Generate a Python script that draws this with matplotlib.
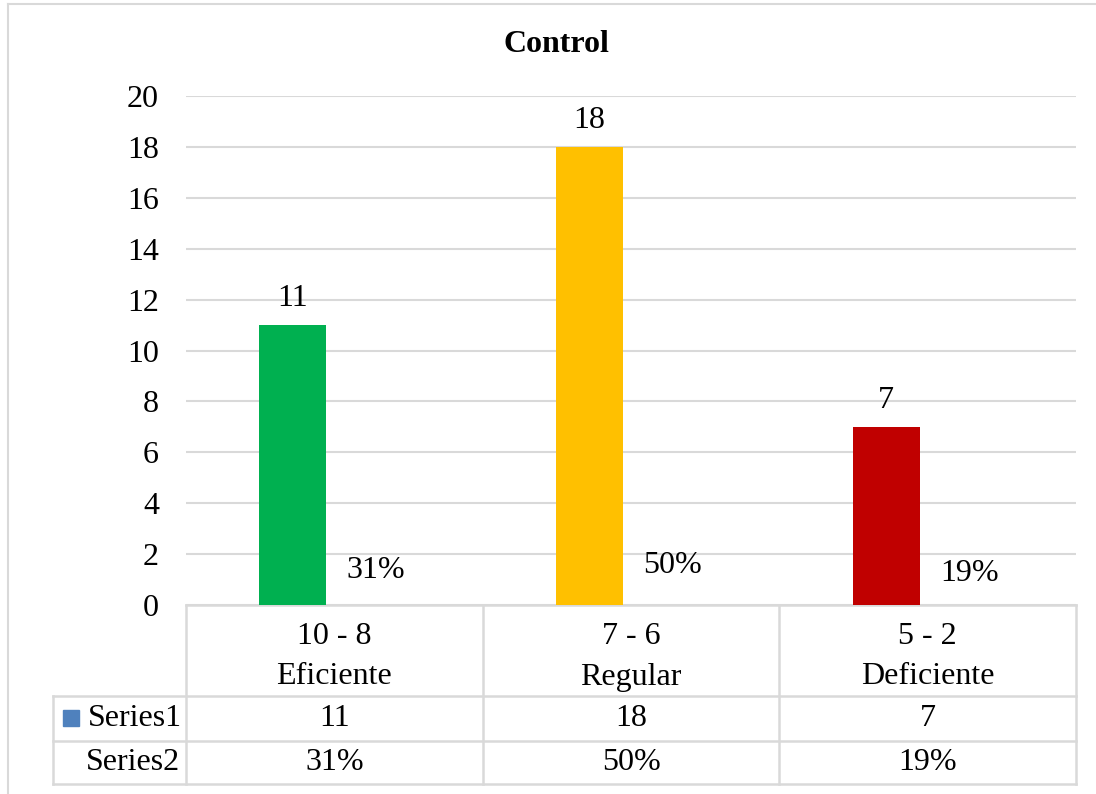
import matplotlib.pyplot as plt
from matplotlib.patches import Rectangle
from matplotlib.lines import Line2D
import numpy as np

plt.rcParams['font.family'] = ['Liberation Serif', 'DejaVu Serif']

ranges = ['10 - 8', '7 - 6', '5 - 2']
levels = ['Eficiente', 'Regular', 'Deficiente']
series1 = [11, 18, 7]
series2 = [0.31, 0.50, 0.19]
series1_labels = ['11', '18', '7']
series2_labels = ['31%', '50%', '19%']
bar_colors = ['#00B050', '#FFC000', '#C00000']

W, H = 1096, 794
fig = plt.figure(figsize=(W / 100, H / 100), dpi=100)
ax = fig.add_axes([186 / W, (H - 605) / H, (1076 - 186) / W, (605 - 96) / H])

grid_c = '#D9D9D9'
fs = 23

# chart border (only top and left fall inside the picture)
fig.add_artist(Line2D([8 / W, 1], [(H - 4) / H] * 2, color=grid_c, lw=1.5))
fig.add_artist(Line2D([8 / W] * 2, [0, (H - 4) / H], color=grid_c, lw=1.5))

x = np.arange(len(ranges))
bw = 0.226
off = 0.14
ax.bar(x - off, series1, bw, color=bar_colors, zorder=3)
ax.bar(x + off, series2, bw, color='none', zorder=3)

for xi, v, lab in zip(x, series1, series1_labels):
    ax.text(xi - off, v + 1.05, lab, ha='center', va='center', fontsize=fs)
for xi, v, lab in zip(x, series2, series2_labels):
    ax.text(xi + off, v + 1.05, lab, ha='center', va='center', fontsize=fs)

ax.set_xlim(-0.5, 2.5)
ax.set_ylim(0, 20)
ax.set_yticks(range(0, 21, 2))
ax.tick_params(axis='y', length=0, labelsize=fs, pad=19.5)
ax.set_xticks([])
ax.grid(axis='y', color=grid_c, lw=1.5, zorder=0)
for s in ax.spines.values():
    s.set_visible(False)
fig.text(556 / W, (H - 44) / H, 'Control', fontsize=fs, fontweight='bold', ha='center', va='center')

# data table below the axis
tr = ax.get_xaxis_transform()
px = 509.0
y_head = -91 / px
y_r1 = -136 / px
y_r2 = -179 / px
x_left = -0.5 - 133 / 296.7
lk = dict(color=grid_c, lw=1.8, transform=tr, clip_on=False)
ax.plot([-0.5, 2.5], [0, 0], **lk)
for yy in (y_head, y_r1, y_r2):
    ax.plot([x_left, 2.5], [yy, yy], **lk)
ax.plot([x_left, x_left], [y_head, y_r2], **lk)
for xe in np.arange(len(ranges) + 1) - 0.5:
    ax.plot([xe, xe], [0, y_r2], **lk)

for xi, r, l, a, b in zip(x, ranges, levels, series1_labels, series2_labels):
    ax.text(xi, -31 / px, r, transform=tr, ha='center', va='center', fontsize=fs)
    ax.text(xi, -72 / px, l, transform=tr, ha='center', va='center', fontsize=fs)
    ax.text(xi, -114 / px, a, transform=tr, ha='center', va='center', fontsize=fs)
    ax.text(xi, -158 / px, b, transform=tr, ha='center', va='center', fontsize=fs)

ax.text(-0.5 - 4 / 296.7, -114 / px, 'Series1', transform=tr, ha='right', va='center', fontsize=fs)
ax.text(-0.5 - 6 / 296.7, -158 / px, 'Series2', transform=tr, ha='right', va='center', fontsize=fs)
fig.patches.append(Rectangle((63 / W, (H - 726) / H), 16 / W, 16 / H, transform=fig.transFigure,
                             color='#4F81BD'))

fig.savefig('out.png', dpi=100)
